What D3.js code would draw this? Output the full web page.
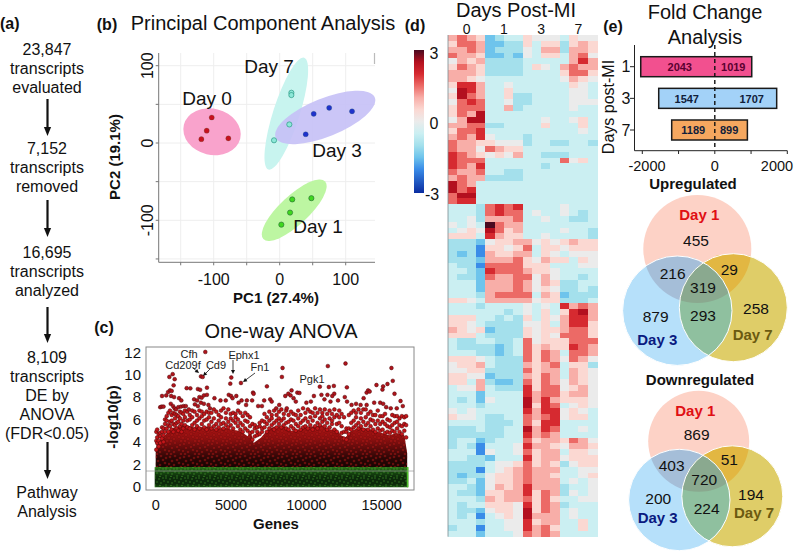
<!DOCTYPE html>
<html><head><meta charset="utf-8">
<script src="https://d3js.org/d3.v7.min.js"></script>
<style>html,body{margin:0;padding:0;background:#fff}svg{display:block}text{font-family:"Liberation Sans",Arial,sans-serif;fill:#111}</style>
</head><body><svg id="c" width="796" height="551"></svg>
<script>
// ---------- (a) flow ----------
const flowBlocks = [["23,847","transcripts","evaluated"],["7,152","transcripts","removed"],["16,695","transcripts","analyzed"],["8,109","transcripts","DE by","ANOVA","(FDR<0.05)"],["Pathway","Analysis"]];
// ---------- (b) PCA ----------
const pcaGroups = ["Day 0","Day 1","Day 3","Day 7"];
const pcaFill = ["#f9a3cc","#bdf6a2","#c5c0f6","#c8f4ef"];
const pcaDot = ["#c8101e","#3fd81e","#1f32cc","#8de8d8"];
const pcaPoints = [
 [[-103,33],[-110.6,16],[-118.7,5],[-77.8,6]],
 [[19,-73],[48,-71.4],[15.7,-90],[2.5,-105.6]],
 [[51.5,37.7],[75,45.5],[109.6,41],[39.4,11.3]],
 [[17.7,65],[17.7,62],[14.6,24],[-8.6,3.5]]];
// ellipse: centre PC1, centre PC2, semi-axis long & short (PC1 units), tilt degrees
const pcaEllipses = [[-102.5,14.5,44,35,14],[22,-87,64,22,-43],[69,33,81,29,-22],[10,38,89,20,-72.3]];
const pcaDrawOrder = [0,1,3,2];
const pcaTicks = [-100,0,100];
const pcaGridX = [-150,-100,-50,0,50,100];
const pcaGridY = [-150,-100,-50,0,50,100];
// ---------- (c) ANOVA ----------
const geneTicks = [0,5000,10000,15000];
const logpTicks = [0,2,4,6,8,10,12];
const envelopeGene = [0,60,250,500,1000,1500,2000,2500,3000,3500,4000,4500,5000,5500,5800,6100,6300,6500,6800,7000,7500,8000,8500,9000,9500,10000,10500,11000,11500,12000,12300,12600,12900,13500,14000,14500,15000,15500,16000,16500,16690];
const envelopeLog = [3,3.8,4.1,4.4,5.2,5.4,5.5,5.3,5.3,5.4,5.1,5.3,5.1,5,4.8,4.5,5,3.9,4.2,4.4,5.2,5.4,5.4,5,5.1,5.3,5.4,5.5,5.1,5.1,4.6,4.4,4.9,5.3,5.2,5,4.8,4.6,4.8,4.6,3];
const topGenes = [
 [3293,12.03],[1127,10.05],[906,9.8],[1260,9.6],[1190,9.05],[3005,9.85],[3116,9.8],[5017,9.75],[4950,9.2],[5658,9.26],[8420,10.6],[8376,9.8],[11426,10.77],[12597,11],[15647,10.6],[15735,9.45],[7381,8.96],[10895,8.93],[11492,8.9],[12690,8.87],[11824,9],[14652,9.08],[15382,9.17],[15094,8.96],[15050,8.67],[3403,8.84],[2055,8.8],[2300,8.78],[2800,8.72],[2950,8.65],[9017,8.6],[8800,8.3],[9400,8.4],[9540,8.37],[700,8.15],[820,8.45],[950,8.6],[1060,8.55],[1020,8.1],[1220,8.0],[1550,7.9],[1700,7.7],[300,7.1],[400,7.15],[520,7.15],[420,8.1],[1000,7.4],[1150,7.2],[1250,7.0],[1350,6.9],[1500,7.1],[1680,7.15],[1850,7.2],[2000,7.2],[2200,6.9],[2550,7.8],[2750,7.7],[2900,8],[3050,7.95],[3200,8.15],[3400,8.2],[2600,7.35],[2800,7.2],[3000,7.5],[3200,7.4],[3500,7.3],[3600,7],[3900,7.9],[4300,7.7],[4650,7.7],[4850,8.2],[5000,8.1],[5100,7.9],[5350,8.1],[5700,7.7],[5500,7.5],[6000,7.3],[6050,7.7],[6400,7.7],[6460,8.4],[6500,8.3],[6800,7.2],[7050,7.2],[7200,7.7],[7600,7.8],[7700,7.6],[8000,7],[8200,7.3],[8600,8.1],[8700,7],[8950,8.15],[9150,7.9],[9300,7.6],[10000,7.5],[10300,7.6],[10500,8.1],[11000,8.2],[11200,7.8],[11400,8.2],[11600,7.6],[11850,8.3],[11720,8.1],[12100,7.7],[12550,8],[12700,7.6],[13000,7.3],[13300,7.4],[13600,7.3],[13800,7.9],[14000,8.4],[14100,8.6],[14200,8.5],[14000,7.3],[14500,7.5],[14900,7.5],[15100,7.4],[15300,7.1],[15600,7],[15850,8.3],[16000,7],[16250,7.65],[16400,7.2]];
// speckle of the crowded band: gene, then the -log10(p) values read around it
const midGenes = [
 [40,4.9,4.1,3.3],[100,3.9,4.4,5.1],[200,4.7,4.1,3.6],[300,4.5,3.9,4.8],[420,4.9,4.3,5.3],[520,5.2,4.6,4],[620,5.6,4.9,6],[730,5.9,5.2,6.3],[840,5.5,6.6,4.9],[950,6.8,5.4,5.8],[1060,5.9,5.1,6.4],[1170,6.6,5.6,4.9],[1280,5.5,6.1,6.5],[1390,6.4,5.2,5.7],[1500,5.8,6.3,5],[1610,6.7,5.4,6.1],[1720,5.6,6.6,4.9],[1830,6.5,5.9,5.2],[1940,5.5,6.8,6.2],
 [2100,6.7,5.3,5.9],[2260,6.4,6,5.2],[2420,6.8,5.5,6.2],[2580,5.7,6.7,5.1],[2740,6.4,5.9,5.4],[2900,6.8,5.2,6.1],[3060,5.6,6.7,6.3],[3220,6.5,5.3,5.9],[3380,6.7,6,5.1],[3540,5.5,6.6,6.2],[3700,6.6,5.8,5.2],[3860,5.4,6.9,6.1],[4020,6.7,5.6,5.1],[4180,6.4,5.9,5.3],[4340,5.6,6.8,6.2],[4500,7,5.7,5.2],[4660,6.6,6.1,5.5],[4820,5.8,6.9,5.3],[4980,6.5,5.5,6.1],[5140,6.6,5.2,5.9],[5300,5.7,6.5,6.2],[5460,6.8,5.4,6],[5620,6.6,5.7,5.1],[5780,6.3,5.5,4.9],[5940,6.6,5.9,5.2],[6100,5.8,6.4,5],[6260,6.2,5.4,4.8],[6420,4.9,5.6,4.2],[6580,5.2,4.5,5.5],[6740,4.6,5.3,4.9],[6900,5.4,4.7,5.7],[7060,5.9,4.9,5.2],[7220,6.5,5.3,5.8],[7380,6.2,5.6,4.9],[7540,6.7,5.9,5.2],[7700,6.4,5.5,6.1],[7860,6.8,5.7,5.1],[8020,6.4,5.9,5.3],[8180,6.7,5.6,6.1],[8340,6.9,5.3,5.9],[8500,6.5,6.1,5.5],[8660,6.8,5.7,5.2],[8820,6.4,5.8,5.1],[8980,6.7,5.4,6],[9140,5.9,6.5,5.2],[9300,6.4,5.6,5],[9460,6.8,6.1,5.4],[9620,5.7,6.4,5.1],[9780,7,5.9,5.3],[9940,6.6,5.4,6.1],[10100,5.8,6.9,5.2],[10260,6.7,6.2,5.5],[10420,5.9,6.6,5.1],[10580,7,6.3,5.4],[10740,6.6,5.7,5.2],[10900,6.9,6.1,5.5],[11060,5.8,6.6,6.3],[11220,6.9,5.4,6],[11380,6.5,5.7,5.1],[11540,6.8,6.1,5.3],[11700,5.6,6.5,5.9],[11860,6.9,6.2,5.1],[12020,6.4,5.6,4.9],[12180,5.7,6.8,6.2],[12340,6.5,5.4,4.8],[12500,6.2,4.9,4.3],[12660,4.9,5.2,4.2],[12820,6.4,5.2,4.7],[12980,5.7,6.6,5.1],[13140,6.8,5.9,5.3],[13300,5.5,6.6,6.2],[13460,6.9,5.7,5.2],[13620,6.6,6.1,5.4],[13780,5.8,6.9,5.1],[13940,6.9,6.2,5.5],[14100,6.5,5.7,5.1],[14260,6.7,5.4,6],[14420,5.9,6.4,5.1],[14580,6.4,5.6,4.9],[14740,6.8,5.9,5.2],[14900,5.6,6.3,5],[15060,6.3,5.1,5.8],[15220,6.5,5.6,4.8],[15380,5.4,6,4.9],[15540,5.9,4.8,5.3],[15700,6.4,5.5,5],[15860,5.7,6.3,4.9],[16020,6.3,5.2,5.8],[16180,6.1,5.5,4.9],[16340,5.4,6.3,4.7],[16500,6.2,5.6,5],[16620,6.3,5.5,4.4]];
const anovaLabels = ["Cfh","Cd209f","Cd9","Ephx1","Fn1","Pgk1"];
// ---------- (d) heatmap, half-unit z levels ----------
const dayGroups = ["0","1","3","7"];
const heatLevels = [-6,-4,-3,-2,-1,0,1,2,3,4,5,6];
const heatColors = ["#0a2ca0","#3a8ce8","#6ec4ec","#a4e0ec","#cbeff2","#ebebeb","#fbd8d2","#f8aea8","#ec6a66","#d62a30","#b3101f","#4a0a20"];
const heatRows = [
[2,3,2,1,-3,-2,-1,-1,1,0,0,0,-1,1,0,0],[1,3,3,2,-3,-3,-2,-2,1,-1,1,1,-2,1,2,1],[2,2,3,2,-3,-2,-2,-2,0,-1,2,2,-2,2,2,1],[3,2,2,1,-3,-3,-2,-3,0,-1,1,1,-1,2,3,0],[0,2,1,2,-2,-2,-2,-2,-1,-1,-1,-1,-1,2,4,2],[1,3,2,1,-2,-2,-2,-2,-1,1,0,-1,2,3,2,2],[2,2,2,1,-2,-2,-2,-2,-1,-1,-1,-1,1,3,3,1],[2,2,1,0,-1,-1,-1,-1,-1,-1,-1,-1,0,2,1,0],
[1,4,4,2,-1,-1,0,-1,-1,-1,-1,-1,-1,1,0,-1],[0,5,4,2,-1,-1,1,-1,-1,-1,-1,-1,-1,0,0,-1],[1,5,3,2,-1,-1,1,-2,-2,-1,-1,-1,-1,0,0,-1],[0,3,4,3,-1,-1,0,-2,-2,-1,-1,-1,-1,0,0,0],[1,3,3,3,-1,-1,2,-2,-1,-1,-1,-1,-1,0,-1,-1],[1,3,2,5,-1,-1,-1,-1,-1,-1,-1,-1,-1,-1,-1,-1],[0,2,5,5,-1,-1,-1,-1,-1,-1,0,-1,-1,0,1,-1],[2,2,3,3,-2,-2,-1,-1,-1,-1,1,-1,-1,-1,1,-1],[1,3,3,4,-1,-1,-1,-1,-1,-1,-1,-1,-1,-1,0,-1],[2,3,2,4,0,-1,-1,-1,-2,-1,-1,-1,-1,-1,-1,-1],
[3,2,2,1,1,0,0,0,-2,-1,-1,-2,-2,-1,-1,-2],[3,2,2,0,3,2,1,1,-1,-1,-1,-1,-1,-1,-1,-1],[4,3,2,1,0,1,0,2,-1,-1,-2,-2,-2,-1,-1,-1],[4,3,3,3,-1,-1,-1,-1,-1,-1,-1,-1,3,0,1,-1],[4,3,2,4,-1,-1,-1,-1,-1,-1,-2,-1,-1,-1,-1,-1],[3,2,2,3,-1,-1,-2,-2,-1,-1,-1,-1,-1,-1,-1,-1],[2,3,2,2,-2,-2,-2,-2,-1,-1,-1,-1,-1,-1,-1,-1],
[5,3,2,-1,-1,-1,-1,-1,-1,-1,-1,-1,-1,-1,-1,-1],[5,3,4,-1,-1,-1,-1,-1,-1,-1,-1,-1,-1,-1,-1,-1],[3,5,5,-1,-1,-1,-1,-1,-1,-1,-1,-1,-1,-1,-1,-1],[3,4,4,-1,-1,-1,-1,-1,-1,-1,-1,-1,-1,-1,-1,-1],
[-1,-1,-1,-2,3,4,3,4,-1,-1,-1,-1,0,-1,-1,-1],[-1,-1,-1,-2,3,4,3,3,-1,0,-1,-1,0,-1,-2,-1],[-1,-1,0,-2,2,2,2,3,-1,-1,0,-1,-1,-2,-2,-1],[0,-1,0,-1,6,3,2,2,-1,-1,-1,-1,-1,-1,-1,-1],[-1,0,1,0,5,3,1,2,-1,-1,-1,-1,0,-1,-1,-2],[1,1,1,-1,4,2,1,1,-1,-1,0,-1,-1,-1,-1,-2],
[-2,-2,-2,-3,0,1,1,2,2,0,1,0,1,2,1,1],[-2,-2,-2,-4,1,1,0,1,3,-1,1,1,0,1,1,1],[-2,-3,-2,-4,2,1,1,2,2,-1,1,0,-1,0,0,0],[-2,-2,-2,-3,2,2,2,3,1,0,2,1,1,-1,1,0],[-1,-2,-2,-4,3,3,3,3,1,1,1,-1,-1,-1,0,0],[-1,-1,-2,-3,4,3,3,3,2,1,1,0,-1,-1,-1,-1],[-1,-2,-2,-3,3,2,2,3,3,0,2,0,-1,-1,-2,-1],
[-1,-1,-1,-3,2,2,2,3,2,0,2,1,-2,-2,-1,-1],[-1,-1,-1,-3,2,2,2,3,2,0,1,0,-2,-2,-1,-2],[-1,-1,-1,-2,2,3,3,3,3,-1,2,1,-3,-2,-2,-2],[1,1,0,-1,2,2,2,2,2,0,1,1,-2,-2,-2,-1],
[-1,-1,-1,-2,-1,-1,-1,-1,0,-1,0,-1,4,2,3,2],[-1,-1,-1,-1,-1,-1,-2,-1,0,-1,1,-1,1,4,5,2],[1,1,1,-1,-1,-2,-1,-2,1,-1,1,0,2,4,4,2],[1,1,0,-1,-2,-2,-2,-2,0,0,1,-1,2,4,4,1],[2,1,0,1,-3,-2,-2,-2,1,0,1,1,2,3,3,1],[1,1,1,-1,-2,-2,-2,-2,1,0,1,0,3,3,3,1],[-1,-2,-2,-1,-1,-2,-2,-1,3,0,1,1,1,3,3,3],[-1,-2,-2,-2,-2,-3,-2,-1,3,1,2,1,1,4,3,2],[-1,-1,-1,-2,-2,-3,-2,-1,3,1,3,2,-1,3,3,2],[1,1,1,0,-1,-2,-2,-2,3,1,3,2,0,3,2,0],[0,1,1,2,-1,-2,-2,-2,2,1,2,3,-1,1,1,-2],[0,0,1,1,-2,-2,-2,-2,3,1,2,2,-1,2,1,0],[1,1,0,0,-3,-2,-2,-2,2,1,3,2,-1,2,1,0],[1,1,-1,2,-2,-3,-3,-2,3,1,3,2,0,2,1,0],[-1,0,0,2,-1,-2,-2,-2,4,1,3,3,0,1,2,0],[-1,-1,-1,-3,-1,-1,-1,-1,4,2,3,3,1,2,2,0],
[-1,-2,-1,-3,0,-1,-1,-1,5,2,4,2,1,1,1,0],[-1,-1,-1,-2,-1,-1,-1,-1,5,1,4,3,-1,0,1,0],[0,-1,0,-1,-1,-1,-1,-1,4,2,4,4,0,1,0,-1],[1,0,0,-1,-2,-2,-1,-1,3,2,3,4,0,1,1,-1],[-1,-1,-1,-1,-2,-2,-2,-1,3,1,4,4,-1,-1,-1,-1],[-2,-2,-2,-1,-2,-2,-1,-1,5,2,4,3,-1,-1,0,-1],[-2,-2,-2,-2,-2,-2,-1,-1,4,2,3,2,-1,-1,-1,-1],[-2,-1,-1,-3,-2,-1,-1,-1,3,1,2,2,1,3,2,0],[-2,-1,-2,-4,-1,-1,-1,0,4,2,2,1,0,2,2,1],[-1,-1,-1,-4,0,-1,-1,0,3,1,2,2,-1,1,1,0],[-1,-1,-2,-2,-3,-1,-1,-1,4,1,2,2,0,1,1,1],[-2,-2,-2,-2,-1,0,0,1,3,1,2,1,-2,0,1,1],[-2,-2,-2,-4,-1,0,1,2,3,2,2,2,-1,-1,0,0],[-2,-3,-2,-2,0,1,1,2,3,2,2,1,-1,-1,0,1],[-2,-2,-1,-3,0,1,1,2,3,2,2,2,-1,0,-1,0],[-1,-1,-2,-3,0,2,1,2,4,2,2,2,-2,-1,-1,0],[-1,-2,-2,-3,1,1,2,2,4,1,3,2,-2,0,-1,0],[-1,-1,-1,-2,2,1,2,2,3,1,3,1,-1,-1,0,0],[-1,-2,-1,-1,1,1,1,0,4,1,3,2,-2,-1,-1,-1],[-1,-2,-2,-3,0,1,1,0,5,1,3,2,-1,0,-1,-1],[-1,-2,-1,-4,-1,0,1,0,5,2,2,2,-1,0,-1,-1],[-1,-1,-1,-2,-1,-1,0,0,4,1,2,2,-1,-1,1,-1],[-2,-1,-1,-4,-1,-1,0,0,4,2,3,1,-1,-1,1,-1],[-1,-1,-1,-3,-1,-1,-1,0,3,2,3,2,-1,-1,-1,-1]];
// ---------- (e) fold change ----------
const fcDays = ["1","3","7"];
const fcDown = [2043,1547,1189];
const fcUp = [1019,1707,899];
const fcColors = ["#f2508f","#a3d2f8","#f5a75f"];
const fcTicks = [-2000,-1000,0,1000,2000];
const vennUp = {d1:455,d3:879,d7:258,d13:216,d17:29,d37:293,all:319};
const vennDown = {d1:869,d3:200,d7:194,d13:403,d17:51,d37:224,all:720};

const svg = d3.select("#c");
function label(t,x,y,o={}){
  const s = svg.append("text").text(t).attr("x",x).attr("y",y).attr("dy","0.35em")
    .attr("text-anchor",o.anchor||"middle").style("font-size",(o.size||16)+"px");
  if(o.bold) s.style("font-weight","700");
  if(o.fill) s.style("fill",o.fill);
  if(o.rot!==undefined) s.attr("transform",`rotate(${o.rot} ${x} ${y})`);
  return s;
}
function arrow(g,x1,y1,x2,y2,w,h,hw,color){
  const a=Math.atan2(y2-y1,x2-x1),c=Math.cos(a),s=Math.sin(a);
  g.append("line").attr("x1",x1).attr("y1",y1).attr("x2",x2-c*h*.6).attr("y2",y2-s*h*.6).attr("stroke",color).attr("stroke-width",w);
  g.append("path").attr("d",`M${x2},${y2}L${x2-c*h-s*hw},${y2-s*h+c*hw}L${x2-c*h+s*hw},${y2-s*h-c*hw}Z`).attr("fill",color);
}

// ===== (a)
label("(a)",0,23,{bold:true,size:16,anchor:"start"});
const flowY = [49,148,252,357,492], lineGap=19;
flowBlocks.forEach((b,i)=>b.forEach((t,j)=>label(t,47,flowY[i]+j*lineGap,{size:16})));
const fa = svg.append("g");
[[99,136],[200,237],[307,343],[442,479]].forEach(p=>arrow(fa,47.5,p[0],47.5,p[1],2.2,9,3.6,"#111"));

// ===== (b)
label("(b)",107,24,{bold:true,size:16});
label("Principal Component Analysis",263,23,{size:20});
const px = d3.scaleLinear().domain([-100,100]).range([213.7,345.7]);
const py = d3.scaleLinear().domain([-100,100]).range([220.3,65.7]);
const pL=158.7,pR=375,pT=53,pB=262.3;
const pg = svg.append("g");
pcaGridX.forEach(v=>pg.append("line").attr("x1",px(v)).attr("x2",px(v)).attr("y1",pT).attr("y2",pB).attr("stroke","#eeeeee"));
pcaGridY.forEach(v=>pg.append("line").attr("y1",py(v)).attr("y2",py(v)).attr("x1",pL).attr("x2",pR).attr("stroke","#eeeeee"));
const k = px(1)-px(0);
pcaDrawOrder.forEach(i=>{const e=pcaEllipses[i];pg.append("ellipse").attr("transform",`translate(${px(e[0])},${py(e[1])}) rotate(${e[4]})`)
  .attr("rx",e[2]*k).attr("ry",e[3]*k).attr("fill",pcaFill[i]).attr("fill-opacity",i==2?0.9:1);});
pcaPoints.forEach((pts,i)=>pts.forEach(p=>pg.append("circle").attr("cx",px(p[0])).attr("cy",py(p[1])).attr("r",2.6)
  .attr("fill",pcaDot[i]).attr("stroke",i==3?"#1f8f7a":"#2a6a3a").attr("stroke-opacity",i==3||i==1?.9:.3).attr("stroke-width",.7)));
pg.append("path").attr("d",`M${pL},${pT}V${pB}H${pR}`).attr("fill","none").attr("stroke","#777").attr("stroke-width",1);
pcaGridX.forEach(v=>pg.append("line").attr("x1",px(v)).attr("x2",px(v)).attr("y1",pB).attr("y2",pB+3).attr("stroke","#777"));
pcaGridY.forEach(v=>pg.append("line").attr("y1",py(v)).attr("y2",py(v)).attr("x1",pL).attr("x2",pL-3).attr("stroke","#777"));
pg.append("line").attr("x1",374.5).attr("x2",374.5).attr("y1",53).attr("y2",64).attr("stroke","#bbb").attr("stroke-width",1.2);
pcaTicks.forEach(v=>{label(v,px(v),279,{size:16});label(v,147,py(v),{size:16,rot:-90});});
label("PC1 (27.4%)",276,298,{bold:true,size:15});
label("PC2 (19.1%)",115,157,{bold:true,size:15,rot:-90});
label("Day 0",207,98.5,{size:19});
label("Day 7",269,66.5,{size:19});
label("Day 3",337,150.5,{size:19});
label("Day 1",318,226,{size:19});

// ===== (c)
label("(c)",104,327,{bold:true,size:16});
label("One-way ANOVA",281,331,{size:20});
const gx = d3.scaleLinear().domain([0,15000]).range([155.7,381.7]);
const gy = d3.scaleLinear().domain([0,12]).range([486.7,352.3]);
const cg = svg.append("g");
const defs = svg.append("defs");
const grad = defs.append("linearGradient").attr("id","mass").attr("gradientUnits","userSpaceOnUse").attr("x1",0).attr("x2",0).attr("y1",gy(1.7)).attr("y2",gy(6));
[[0,"#150402"],[.2,"#2c0605"],[.4,"#5e0b0b"],[.6,"#8e0f0f"],[.85,"#a81212"],[1,"#b01414"]].forEach(s=>grad.append("stop").attr("offset",s[0]).attr("stop-color",s[1]));
const gg = defs.append("linearGradient").attr("id","noise").attr("gradientUnits","userSpaceOnUse").attr("x1",0).attr("x2",0).attr("y1",gy(1.75)).attr("y2",gy(-.05));
[[0,"#2f7d1c"],[.12,"#1e5a14"],[.5,"#0c2a0a"],[.85,"#0c2a0a"],[1,"#1a5212"]].forEach(s=>gg.append("stop").attr("offset",s[0]).attr("stop-color",s[1]));
// dotted textures (purely a style of the crowded areas)
const texRed = defs.append("pattern").attr("id","texRed").attr("patternUnits","userSpaceOnUse").attr("width",14).attr("height",13);
[[2,2],[7,1],[12,3],[4,6],[9,5],[1,9],[6,10],[11,8],[13,12],[3,12]].forEach(p=>texRed.append("circle").attr("cx",p[0]).attr("cy",p[1]).attr("r",1.3).attr("fill","#d4201c").attr("fill-opacity",.45).attr("stroke","#1a0202").attr("stroke-opacity",.35).attr("stroke-width",.5));
const texGreen = defs.append("pattern").attr("id","texGreen").attr("patternUnits","userSpaceOnUse").attr("width",11).attr("height",9);
[[1,1],[5,2],[9,1],[3,5],[7,6],[10,4],[1,8],[6,8.5]].forEach(p=>texGreen.append("circle").attr("cx",p[0]).attr("cy",p[1]).attr("r",.7).attr("fill","#5fd03a").attr("fill-opacity",.55));
const envelope = envelopeGene.map((g,i)=>[g,envelopeLog[i]]);
const massArea = d3.area().x(d=>gx(d[0])).y0(gy(1.6)).y1(d=>gy(d[1]));
cg.append("path").datum(envelope).attr("fill","url(#mass)").attr("d",massArea);
cg.append("path").datum(envelope).attr("fill","url(#texRed)").attr("d",massArea);
const bandH = gy(-.05)-gy(1.75);
cg.append("rect").attr("x",gx(0)-1).attr("width",gx(16695)-gx(0)+2).attr("y",gy(1.75)).attr("height",bandH).attr("fill","url(#noise)");
cg.append("rect").attr("x",gx(0)-1).attr("width",gx(16695)-gx(0)+2).attr("y",gy(1.75)).attr("height",bandH).attr("fill","url(#texGreen)");
cg.append("rect").attr("x",gx(16695)-.5).attr("width",1.6).attr("y",gy(1.75)).attr("height",bandH).attr("fill","#4fc22a");
cg.append("line").attr("x1",146).attr("x2",414).attr("y1",gy(1.4)).attr("y2",gy(1.4)).attr("stroke","#999").attr("stroke-width",.7);
const midPoints = midGenes.flatMap(r=>r.slice(1).map(v=>[r[0],v]));
cg.selectAll("circle.mid").data(midPoints).join("circle").attr("class","mid").attr("cx",d=>gx(d[0])).attr("cy",d=>gy(d[1])).attr("r",1.9)
  .attr("fill","#c4161a").attr("stroke","#4a0808").attr("stroke-width",.5);
cg.selectAll("circle.top").data(topGenes).join("circle").attr("class","top").attr("cx",d=>gx(d[0])).attr("cy",d=>gy(d[1])).attr("r",1.9)
  .attr("fill","#b0141c").attr("stroke","#4a0a0a").attr("stroke-width",.5);
cg.append("rect").attr("x",146).attr("y",347).attr("width",268).attr("height",143).attr("fill","none").attr("stroke","#888").attr("stroke-width",1);
logpTicks.forEach(v=>label(v,141,gy(v),{size:15,anchor:"end"}));
geneTicks.forEach(v=>label(v,gx(v),505,{size:14.5}));
label("Genes",276,524,{bold:true,size:15});
label("-log10(p)",113,417,{bold:true,size:15,rot:-90});
const anoPos=[[189,354],[183,365],[216,365],[244,355],[260,367],[312,379]];
anovaLabels.forEach((t,i)=>label(t,anoPos[i][0],anoPos[i][1],{size:11,fill:"#222"}));
[[193,368,199,373],[210,369,203,376],[233,360,233,374],[255,373,243,382]].forEach(a=>arrow(cg,a[0],a[1],a[2],a[3],.8,4,2,"#111"));

// ===== (d)
label("(d)",415,25,{bold:true,size:16});
label("Days Post-MI",516,10,{size:20});
const cols = d3.range(16);
const hx = d3.scaleBand().domain(cols).range([448,597]);
const hy = d3.scaleBand().domain(d3.range(heatRows.length)).range([35,536.7]);
const hc = d3.scaleLinear().domain(heatLevels).range(heatColors);
const hg = svg.append("g").attr("shape-rendering","crispEdges");
heatRows.forEach((r,i)=>r.forEach((v,j)=>hg.append("rect").attr("x",hx(j)).attr("y",hy(i)).attr("width",hx.bandwidth()+.5).attr("height",hy.bandwidth()+.5).attr("fill",hc(v))));
svg.append("line").attr("x1",448).attr("x2",448).attr("y1",35).attr("y2",536.7).attr("stroke","#7a8a90").attr("stroke-width",.8);
dayGroups.forEach((d,i)=>label(d,hx(i*4)+hx.bandwidth()*2,29,{size:14}));
const cb = defs.append("linearGradient").attr("id","cbar").attr("x1",0).attr("x2",0).attr("y1",1).attr("y2",0);
heatLevels.forEach((l,i)=>cb.append("stop").attr("offset",(l+6)/12).attr("stop-color",heatColors[i]));
svg.append("rect").attr("x",414).attr("y",50).attr("width",10).attr("height",143).attr("fill","url(#cbar)");
label("3",434,53,{size:16});label("0",434,123,{size:16});label("-3",432,194,{size:16});

// ===== (e)
label("(e)",613,26,{bold:true,size:16});
label("Fold Change",705,12,{size:20});
label("Analysis",705,37,{size:20});
const fx = d3.scaleLinear().domain([-2000,2000]).range([642.3,787.3]);
const fy = d3.scalePoint().domain(fcDays).range([66.7,130]);
const eg = svg.append("g");
fcDays.forEach((d,i)=>{
  eg.append("rect").attr("x",fx(-fcDown[i])).attr("width",fx(fcUp[i])-fx(-fcDown[i])).attr("y",fy(d)-10).attr("height",20)
   .attr("fill",fcColors[i]).attr("stroke","#1a1a1a").attr("stroke-width",1.5);
  label(fcDown[i],fx(-fcDown[i]/2)+(i==0?2:0),fy(d)+.5,{bold:true,size:11,fill:i==0?"#5a0030":"#10203a"});
  label(fcUp[i],fx(fcUp[i]/2)+(i==2?-2:0)+(i==1?6:0),fy(d)+.5,{bold:true,size:11,fill:i==0?"#5a0030":"#10203a"});
  label(d,626,fy(d),{size:16});
  eg.append("line").attr("x1",630).attr("x2",634.5).attr("y1",fy(d)).attr("y2",fy(d)).attr("stroke","#222");
});
eg.append("line").attr("x1",fx(0)).attr("x2",fx(0)).attr("y1",45).attr("y2",150).attr("stroke","#111").attr("stroke-width",1.4).attr("stroke-dasharray","4,3");
eg.append("path").attr("d","M634.5,45V150.7H787.3").attr("fill","none").attr("stroke","#222").attr("stroke-width",1);
fcTicks.forEach(v=>eg.append("line").attr("x1",fx(v)).attr("x2",fx(v)).attr("y1",150.7).attr("y2",154).attr("stroke","#222"));
[[-2000,647],[0,714.7],[2000,777]].forEach(p=>label(p[0],p[1],166,{size:14.5}));
label("Days post-MI",608,107,{size:16,rot:-90});

function venn(id,C,num,pos){
  const g = svg.append("g");
  const [a,b,c]=C;
  const cp=(n,o)=>defs.append("clipPath").attr("id",id+n).append("circle").attr("cx",o[0]).attr("cy",o[1]).attr("r",o[2]);
  cp("a",a);cp("b",b);cp("c",c);
  const circ=(o,fill,clips=[])=>{let p=g; clips.forEach(cl=>{p=p.append("g").attr("clip-path",`url(#${id}${cl})`);});
    return p.append("circle").attr("cx",o[0]).attr("cy",o[1]).attr("r",o[2]).attr("fill",fill);};
  circ(a,"#fdd2c6");circ(c,"#dfcd68");circ(b,"#b6e0fa");
  circ(b,"#a5bed8",["a"]);
  circ(c,"#e2b742",["a"]);
  circ(c,"#8fc09f",["b"]);
  circ(c,"#8aa98f",["a","b"]);
  [b,c].forEach(o=>g.append("circle").attr("cx",o[0]).attr("cy",o[1]).attr("r",o[2]).attr("fill","none").attr("stroke","#fff").attr("stroke-width",1));
  const keys=["d1","d3","d7","d13","d17","d37","all"];
  keys.forEach(k=>label(num[k],pos[k][0],pos[k][1],{size:15.5}));
  label("Day 1",pos.L1[0],pos.L1[1],{bold:true,size:15,fill:"#e00f14"});
  label("Day 3",pos.L3[0],pos.L3[1],{bold:true,size:15,fill:"#0a1a80"});
  label("Day 7",pos.L7[0],pos.L7[1],{bold:true,size:15,fill:"#6b5a10"});
}
label("Upregulated",693,184,{bold:true,size:15});
venn("u",[[697.3,249,54],[677.3,310.7,54.7],[733.3,307.7,54]],vennUp,{d1:[696,240.7],d13:[672.7,274],d17:[729.3,269.3],all:[703,287.3],d3:[655.7,316.7],d37:[703,315.3],d7:[756,309],L1:[699.3,214.3],L3:[657.3,339.3],L7:[752.7,334.7]});
label("Downregulated",700,379.5,{bold:true,size:15});
venn("d",[[698.7,441.3,50.5],[679.3,500,50.7],[732.3,496.3,50.5]],vennDown,{d1:[696.7,435],d13:[671.7,466],d17:[729.3,460],all:[704.3,479.3],d3:[658.3,498.3],d37:[706.7,508.3],d7:[751,494.3],L1:[695.3,410.7],L3:[657.7,517.3],L7:[754,512.7]});
</script></body></html>
